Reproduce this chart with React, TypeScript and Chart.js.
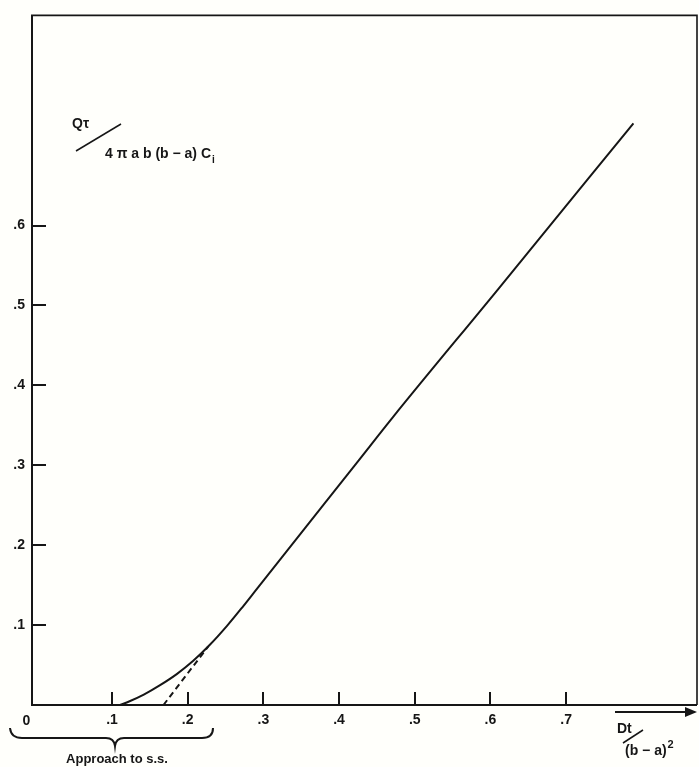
import React, { useEffect, useRef } from 'react';
import { Chart, registerables } from 'chart.js';

Chart.register(...registerables);

// ---- data ----
const xTickValues = [0.1, 0.2, 0.3, 0.4, 0.5, 0.6, 0.7];
const xTickLabels = ['.1', '.2', '.3', '.4', '.5', '.6', '.7'];
const yTickValues = [0.1, 0.2, 0.3, 0.4, 0.5, 0.6];
const yTickLabels = ['.1', '.2', '.3', '.4', '.5', '.6'];

// transient + steady-state curve (solid)
const curveX = [0.1106, 0.124, 0.142, 0.163, 0.186, 0.207, 0.229, 0.252, 0.272, 0.292, 0.425, 0.471, 0.609, 0.789];
const curveY = [0.000, 0.005, 0.013, 0.0245, 0.039, 0.055, 0.075, 0.099, 0.122, 0.146, 0.305, 0.360, 0.519, 0.728];

// extrapolated steady-state asymptote (dashed)
const asymX = [0.168, 0.227];
const asymY = [0.000, 0.073];

const X_MIN = -0.0057;
const X_MAX = 0.873;
const Y_MIN = 0;
const Y_MAX = 0.863;

const FONT = '"Liberation Sans", Arial, Helvetica, sans-serif';
const INK = '#161616';

const decorPlugin = {
  id: 'decor',
  beforeDraw(chart: any) {
    const ctx = chart.ctx;
    ctx.save();
    ctx.fillStyle = '#fffffb';
    ctx.fillRect(0, 0, chart.width, chart.height);
    ctx.restore();
  },
  afterDraw(chart: any) {
    const ctx = chart.ctx;
    const { left, right, top, bottom } = chart.chartArea;
    const xs = chart.scales.x;
    const ys = chart.scales.y;
    ctx.save();
    ctx.strokeStyle = INK;
    ctx.fillStyle = INK;
    ctx.lineCap = 'butt';

    // frame
    ctx.lineWidth = 2;
    ctx.beginPath();
    ctx.moveTo(left, top);
    ctx.lineTo(left, bottom);
    ctx.lineTo(right, bottom);
    ctx.stroke();
    ctx.lineWidth = 1.6;
    ctx.beginPath();
    ctx.moveTo(left - 1, top);
    ctx.lineTo(right, top);
    ctx.lineTo(right, bottom);
    ctx.stroke();

    // inward ticks
    ctx.lineWidth = 2;
    xTickValues.forEach((v) => {
      const px = Math.round(xs.getPixelForValue(v));
      ctx.beginPath();
      ctx.moveTo(px, bottom);
      ctx.lineTo(px, bottom - 13);
      ctx.stroke();
    });
    yTickValues.forEach((v) => {
      const py = Math.round(ys.getPixelForValue(v));
      ctx.beginPath();
      ctx.moveTo(left, py);
      ctx.lineTo(left + 14, py);
      ctx.stroke();
    });

    // origin label
    ctx.font = `bold 14px ${FONT}`;
    ctx.textAlign = 'center';
    ctx.textBaseline = 'alphabetic';
    ctx.fillText('0', xs.getPixelForValue(0) - 10, 725);

    // y axis title
    ctx.textAlign = 'left';
    ctx.font = `bold 14px ${FONT}`;
    ctx.fillText('Qτ', 72, 128);
    ctx.lineWidth = 1.5;
    ctx.beginPath();
    ctx.moveTo(76, 151);
    ctx.lineTo(121, 124);
    ctx.stroke();
    const den = '4 π a b (b − a) C';
    ctx.fillText(den, 105, 158);
    const dw = ctx.measureText(den).width;
    ctx.font = `bold 10px ${FONT}`;
    ctx.fillText('i', 105 + dw + 1, 163);

    // x axis arrow + title
    ctx.lineWidth = 2;
    ctx.beginPath();
    ctx.moveTo(615, 712);
    ctx.lineTo(688, 712);
    ctx.stroke();
    ctx.beginPath();
    ctx.moveTo(685, 707);
    ctx.lineTo(697, 712);
    ctx.lineTo(685, 717);
    ctx.closePath();
    ctx.fill();

    ctx.font = `bold 14px ${FONT}`;
    ctx.fillText('Dt', 617, 733);
    ctx.lineWidth = 1.5;
    ctx.beginPath();
    ctx.moveTo(623, 743);
    ctx.lineTo(643, 730);
    ctx.stroke();
    const dd = '(b − a)';
    ctx.fillText(dd, 625, 755);
    const ddw = ctx.measureText(dd).width;
    ctx.font = `bold 11px ${FONT}`;
    ctx.fillText('2', 625 + ddw + 1, 748);

    // brace
    ctx.lineWidth = 2;
    ctx.beginPath();
    ctx.moveTo(10, 728);
    ctx.quadraticCurveTo(11, 738, 22, 738);
    ctx.lineTo(106, 738);
    ctx.quadraticCurveTo(114, 738, 115, 746);
    ctx.quadraticCurveTo(116, 738, 124, 738);
    ctx.lineTo(202, 738);
    ctx.quadraticCurveTo(213, 738, 213, 728);
    ctx.stroke();

    ctx.font = `bold 13px ${FONT}`;
    ctx.textAlign = 'center';
    ctx.fillText('Approach to s.s.', 117, 763);

    ctx.restore();
  },
};

export default function App() {
  const ref = useRef<HTMLCanvasElement | null>(null);

  useEffect(() => {
    if (!ref.current) return;
    const chart = new Chart(ref.current, {
      type: 'line',
      data: {
        datasets: [
          {
            data: curveX.map((x, i) => ({ x, y: curveY[i] })),
            borderColor: INK,
            borderWidth: 2,
            pointRadius: 0,
            fill: false,
            cubicInterpolationMode: 'monotone',
          },
          {
            data: asymX.map((x, i) => ({ x, y: asymY[i] })),
            borderColor: INK,
            borderWidth: 2,
            borderDash: [6, 4],
            pointRadius: 0,
            fill: false,
          },
        ],
      },
      options: {
        animation: false,
        responsive: false,
        layout: { padding: { top: 12, right: 2, left: 0, bottom: 0 } },
        plugins: { legend: { display: false }, tooltip: { enabled: false } },
        scales: {
          x: {
            type: 'linear',
            min: X_MIN,
            max: X_MAX,
            grid: { display: false, drawTicks: false },
            border: { display: false },
            afterBuildTicks: (scale: any) => {
              scale.ticks = xTickValues.map((v) => ({ value: v }));
            },
            afterFit: (scale: any) => {
              scale.height = 62;
            },
            ticks: {
              autoSkip: false,
              maxRotation: 0,
              padding: 7,
              color: INK,
              font: { family: FONT, size: 14, weight: 'bold' },
              callback: (v: any) => {
                const i = xTickValues.findIndex((t) => Math.abs(t - v) < 1e-6);
                return i >= 0 ? xTickLabels[i] : '';
              },
            },
          },
          y: {
            type: 'linear',
            min: Y_MIN,
            max: Y_MAX,
            grid: { display: false, drawTicks: false },
            border: { display: false },
            afterBuildTicks: (scale: any) => {
              scale.ticks = yTickValues.map((v) => ({ value: v }));
            },
            afterFit: (scale: any) => {
              scale.width = 32;
            },
            ticks: {
              autoSkip: false,
              padding: 7,
              color: INK,
              font: { family: FONT, size: 14, weight: 'bold' },
              callback: (v: any) => {
                const i = yTickValues.findIndex((t) => Math.abs(t - v) < 1e-6);
                return i >= 0 ? yTickLabels[i] : '';
              },
            },
          },
        },
      } as any,
      plugins: [decorPlugin],
    });
    return () => chart.destroy();
  }, []);

  return (
    <div style={{ position: 'fixed', left: 0, top: 0, width: 699, height: 767, background: '#fffffb' }}>
      <canvas ref={ref} width={699} height={767} style={{ display: 'block', width: 699, height: 767 }} />
    </div>
  );
}
